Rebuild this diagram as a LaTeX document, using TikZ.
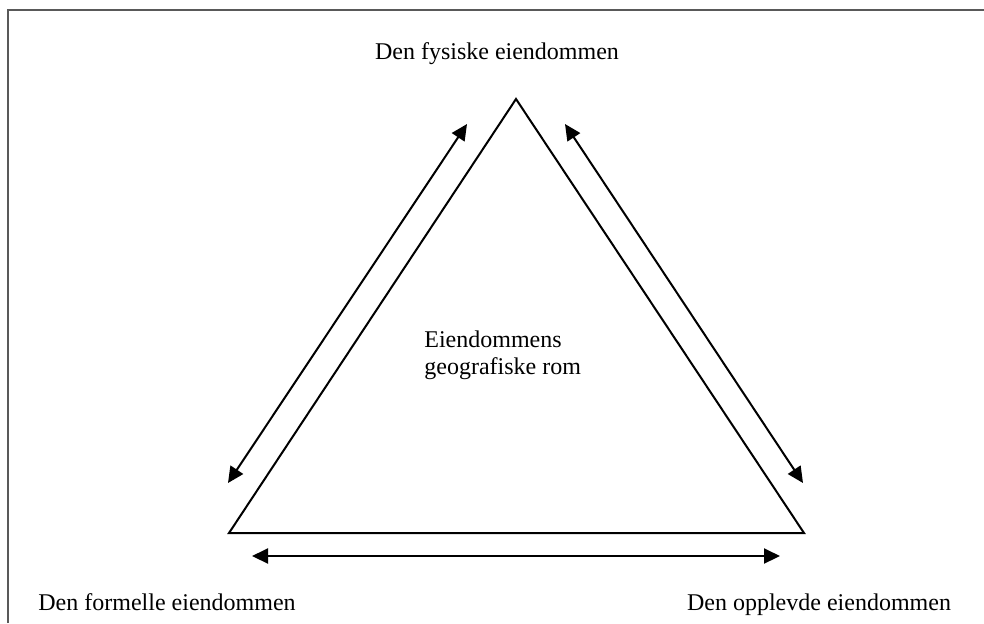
\documentclass[tikz,border=0pt]{standalone}
\usepackage{fontspec}
\setmainfont{Liberation Serif}
\usepackage{tikz}
\usetikzlibrary{arrows.meta}

\begin{document}
\begin{tikzpicture}[x=0.5pt,y=-0.5pt]
\tikzset{>={Triangle[width=7.5pt,length=8pt]}}
\tikzstyle{place} =[inner sep=0pt,anchor=base,font=\fontsize{12}{14}\selectfont]
\tikzstyle{edge} =[line width=1pt]

\useasboundingbox (0,0) rectangle (984,623);
\draw [black!65,line width=1pt] (8,623) -- (8,10) -- (984,10);

\coordinate (top) at (516,99);
\coordinate (left) at (229,533);
\coordinate (right) at (804,533);

\coordinate (a1) at (467,124);
\coordinate (a2) at (228,483);
\coordinate (b1) at (565,124);
\coordinate (b2) at (803,483);
\coordinate (c1) at (252,556);
\coordinate (c2) at (780,556);

\node[place](fys) at (497,59){Den fysiske eiendommen};
\node[place](form) at (167,610){Den formelle eiendommen};
\node[place](oppl) at (819,610){Den opplevde eiendommen};
\node[place,anchor=base west](rom1) at (424,347){Eiendommens};
\node[place,anchor=base west](rom2) at ([yshift=-13.8pt]rom1.base west){geografiske rom};

\draw [edge] (top) -- (left) -- (right) -- cycle;
\draw [<->,edge] (a1) to (a2);
\draw [<->,edge] (b1) to (b2);
\draw [<->,edge] (c1) to (c2);
\end{tikzpicture}
\end{document}
